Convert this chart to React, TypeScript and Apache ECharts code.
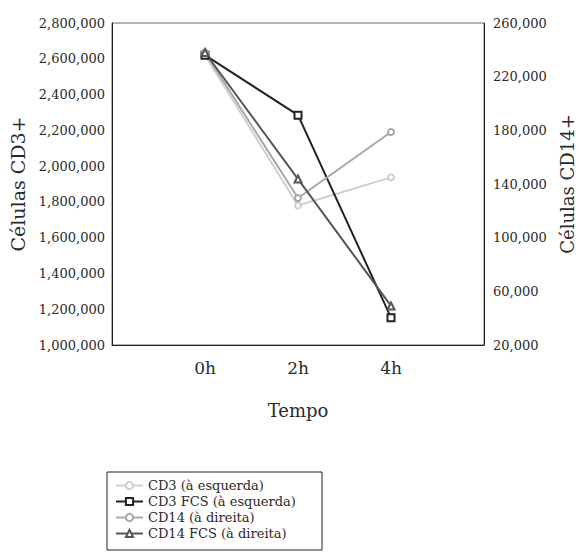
import React, { useEffect, useRef } from "react";
import * as echarts from "echarts";

// Time points, padded with an empty slot on each side of the axis
const timeLabels = ["", "0h", "2h", "4h", ""];

// CD3+ cell counts (left axis)
const cd3 = [null, 2620000, 1780000, 1937000, null];
const cd3Fcs = [null, 2620000, 2285000, 1153000, null];

// CD14+ cell counts (right axis)
const cd14 = [null, 238000, 129600, 178800, null];
const cd14Fcs = [null, 238000, 143700, 49100, null];

const leftTicks = { min: 1000000, max: 2800000, interval: 200000 };
const rightTicks = { min: 20000, max: 260000, interval: 40000 };

const FONT = "'DejaVu Serif', serif";
const TEXT = "#2a2a2a";

const fmt = (v: number) => v.toLocaleString("en-US");

export default function App() {
  const ref = useRef<HTMLDivElement>(null);

  useEffect(() => {
    if (!ref.current) return;
    const chart = echarts.init(ref.current, null, { renderer: "svg" });
    const axisLabel = { color: TEXT, fontFamily: FONT, fontSize: 13, formatter: fmt };
    const nameStyle = { fontFamily: FONT, fontSize: 19, color: TEXT };
    chart.setOption({
      animation: false,
      backgroundColor: "#fff",
      textStyle: { fontFamily: FONT },
      grid: {
        left: 112,
        right: 95,
        top: 23,
        bottom: 207,
        show: true,
        borderColor: "#666",
        borderWidth: 1,
        outerBoundsMode: "none",
        containLabel: false,
      },
      graphic: [
        {
          type: "rect",
          shape: { x: 107, y: 472, width: 215, height: 78 },
          style: { fill: "none", stroke: "#222", lineWidth: 1 },
          silent: true,
        },
      ],
      legend: {
        orient: "vertical",
        left: 115,
        top: 479,
        itemWidth: 27,
        itemHeight: 9,
        itemGap: 3,
        padding: 0,
        textStyle: { fontFamily: FONT, fontSize: 13, color: TEXT },
        data: ["CD3 (à esquerda)", "CD3 FCS (à esquerda)", "CD14 (à direita)", "CD14 FCS (à direita)"],
      },
      xAxis: {
        type: "category",
        data: timeLabels,
        boundaryGap: false,
        name: "Tempo",
        nameLocation: "middle",
        nameGap: 56,
        nameTextStyle: { ...nameStyle, fontSize: 18 },
        axisLine: { lineStyle: { color: "#222" } },
        axisTick: { show: false },
        axisLabel: { fontFamily: FONT, fontSize: 17, color: TEXT, margin: 14, interval: 0 },
        splitLine: { show: false },
      },
      yAxis: [
        {
          type: "value",
          ...leftTicks,
          name: "Células CD3+",
          nameLocation: "middle",
          nameGap: 76,
          nameTextStyle: nameStyle,
          axisLine: { show: true, lineStyle: { color: "#222" } },
          axisTick: { show: false },
          axisLabel: { ...axisLabel, margin: 7 },
          splitLine: { show: false },
        },
        {
          type: "value",
          ...rightTicks,
          position: "right",
          name: "Células CD14+",
          nameLocation: "middle",
          nameGap: 74,
          nameRotate: 90,
          nameTextStyle: { ...nameStyle, fontSize: 18 },
          axisLine: { show: true, lineStyle: { color: "#222" } },
          axisTick: { show: false },
          axisLabel: { ...axisLabel, margin: 9 },
          splitLine: { show: false },
        },
      ],
      series: [
        {
          name: "CD3 (à esquerda)",
          type: "line",
          yAxisIndex: 0,
          data: cd3,
          symbol: "emptyCircle",
          symbolSize: 6,
          lineStyle: { color: "#cfcfcf", width: 2 },
          itemStyle: { color: "#cfcfcf", borderColor: "#cfcfcf" },
        },
        {
          name: "CD3 FCS (à esquerda)",
          type: "line",
          yAxisIndex: 0,
          data: cd3Fcs,
          symbol: "emptyRect",
          symbolSize: 7,
          lineStyle: { color: "#222", width: 2 },
          itemStyle: { color: "#222", borderColor: "#222" },
        },
        {
          name: "CD14 (à direita)",
          type: "line",
          yAxisIndex: 1,
          data: cd14,
          symbol: "emptyCircle",
          symbolSize: 6,
          lineStyle: { color: "#a8a8a8", width: 2 },
          itemStyle: { color: "#a8a8a8", borderColor: "#a8a8a8" },
        },
        {
          name: "CD14 FCS (à direita)",
          type: "line",
          yAxisIndex: 1,
          data: cd14Fcs,
          symbol: "emptyTriangle",
          symbolSize: 7,
          lineStyle: { color: "#555", width: 2 },
          itemStyle: { color: "#555", borderColor: "#555" },
        },
      ],
    });
    return () => chart.dispose();
  }, []);

  return <div ref={ref} style={{ width: 579, height: 552, position: "absolute", left: 0, top: 0 }} />;
}
